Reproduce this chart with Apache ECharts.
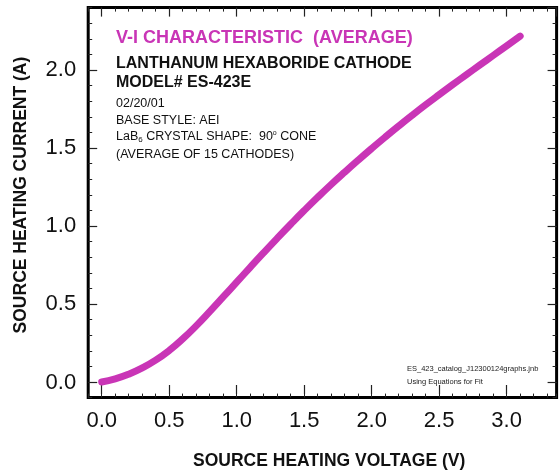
<!DOCTYPE html>
<html>
<head>
<meta charset="utf-8">
<script src="https://cdn.jsdelivr.net/npm/echarts@6/dist/echarts.min.js"></script>
<style>html,body{margin:0;padding:0;background:#fff}#c{width:560px;height:475px}</style>
</head>
<body>
<div id="c"></div>
<script>
const voltage = [0.0,0.1,0.2,0.3,0.4,0.5,0.6,0.7,0.8,0.9,1.0,1.1,1.2,1.3,1.4,1.5,1.6,1.7,1.8,1.9,2.0,2.1,2.2,2.3,2.4,2.5,2.6,2.7,2.8,2.9,3.0,3.1];
const current = [0.000,0.02,0.05,0.09,0.14,0.202,0.276,0.36,0.451,0.545,0.64,0.735,0.829,0.921,1.011,1.099,1.184,1.266,1.345,1.422,1.497,1.57,1.641,1.71,1.777,1.842,1.906,1.969,2.031,2.093,2.155,2.217];
const xTickLabels = ['0.0','0.5','1.0','1.5','2.0','2.5','3.0'];
const yTickLabels = ['0.0','0.5','1.0','1.5','2.0'];
const xTitle = 'SOURCE HEATING VOLTAGE (V)';
const yTitle = 'SOURCE HEATING CURRENT (A)';

const FONT = '"Liberation Sans", Arial, Helvetica, sans-serif';
const MAG = '#c935b6';
const chart = echarts.init(document.getElementById('c'));

function lab(list){
  return function(v){
    const s = (Math.round(v*10)/10).toFixed(1);
    return list.indexOf(s) >= 0 && Math.abs(v*2 - Math.round(v*2)) < 1e-6 ? s : '';
  };
}
const minorTick = {show:true, inside:true, length:4, lineStyle:{color:'#222', width:1}};
const majorTick = {show:true, inside:true, length:9, lineStyle:{color:'#222', width:1.2}};
const noLine = {show:false, onZero:false};

const option = {
  animation:false,
  backgroundColor:'#fff',
  grid:[
    {left:88.2, right:3.4, top:7.6, bottom:77.4, show:true, borderColor:'#000', borderWidth:3, backgroundColor:'transparent'},
    {left:101.7, right:3.4, top:7.6, bottom:77.4},
    {left:88.2, right:3.4, top:7.6, bottom:92.5}
  ],
  xAxis:[
    {gridIndex:0, type:'value', position:'bottom', min:-0.1, max:3.37, interval:0.1, axisLine:noLine, axisTick:minorTick, axisLabel:{show:false}, splitLine:{show:false}},
    {gridIndex:0, type:'value', position:'top', min:-0.1, max:3.37, interval:0.1, axisLine:noLine, axisTick:minorTick, axisLabel:{show:false}, splitLine:{show:false}},
    {gridIndex:1, type:'value', position:'bottom', min:0, max:3.37, interval:0.5, axisLine:noLine, axisTick:majorTick,
      axisLabel:{show:true, margin:16, fontSize:22, color:'#111', fontFamily:FONT, formatter:lab(xTickLabels), showMaxLabel:false}, splitLine:{show:false},
      name:xTitle, nameLocation:'middle', nameGap:58, nameTextStyle:{fontSize:17.5, fontWeight:'bold', color:'#111', fontFamily:FONT}},
    {gridIndex:1, type:'value', position:'top', min:0, max:3.37, interval:0.5, axisLine:noLine, axisTick:majorTick, axisLabel:{show:false}, splitLine:{show:false}},
    {gridIndex:2, type:'value', min:0, max:1, show:false, axisLine:noLine}
  ],
  yAxis:[
    {gridIndex:0, type:'value', position:'left', min:-0.1, max:2.4, interval:0.1, axisLine:noLine, axisTick:minorTick, axisLabel:{show:false}, splitLine:{show:false}},
    {gridIndex:0, type:'value', position:'right', min:-0.1, max:2.4, interval:0.1, axisLine:noLine, axisTick:minorTick, axisLabel:{show:false}, splitLine:{show:false}},
    {gridIndex:1, type:'value', min:0, max:1, show:false, axisLine:noLine},
    {gridIndex:2, type:'value', position:'left', min:0, max:2.4, interval:0.5, axisLine:noLine, axisTick:majorTick,
      axisLabel:{show:true, margin:12, fontSize:22, color:'#111', fontFamily:FONT, formatter:lab(yTickLabels), showMaxLabel:false}, splitLine:{show:false},
      name:yTitle, nameLocation:'middle', nameGap:58, nameTextStyle:{fontSize:17.5, fontWeight:'bold', color:'#111', fontFamily:FONT}},
    {gridIndex:2, type:'value', position:'right', min:0, max:2.4, interval:0.5, axisLine:noLine, axisTick:majorTick, axisLabel:{show:false}, splitLine:{show:false}}
  ],
  series:[
    {type:'line', xAxisIndex:0, yAxisIndex:0, data:voltage.map((v,i)=>[v,current[i]]), smooth:0.5, showSymbol:false,
      lineStyle:{color:MAG, width:7, cap:'round', join:'round'}, z:5}
  ],
  graphic:[
    {type:'text', left:116, top:29, style:{text:'V-I CHARACTERISTIC  (AVERAGE)', font:'bold 18px '+FONT, fill:MAG}},
    {type:'text', left:116, top:56, style:{text:'LANTHANUM HEXABORIDE CATHODE', font:'bold 16px '+FONT, fill:'#111'}},
    {type:'text', left:116, top:75, style:{text:'MODEL# ES-423E', font:'bold 16px '+FONT, fill:'#111'}},
    {type:'text', left:116, top:97, style:{text:'02/20/01', font:'12.5px '+FONT, fill:'#111'}},
    {type:'text', left:116, top:114, style:{text:'BASE STYLE: AEI', font:'12.5px '+FONT, fill:'#111'}},
    {type:'text', left:116, top:130, style:{text:'{a|LaB}{s|6}{a| CRYSTAL SHAPE:  90}{o|o}{a| CONE}', rich:{
      a:{font:'12.5px '+FONT, fill:'#111'}, s:{font:'8px '+FONT, fill:'#111', padding:[7,0,0,0]}, o:{font:'7px '+FONT, fill:'#111', padding:[0,0,6,0]}}}},
    {type:'text', left:116, top:148, style:{text:'(AVERAGE OF 15 CATHODES)', font:'12.5px '+FONT, fill:'#111'}},
    {type:'text', left:407, top:365, style:{text:'ES_423_catalog_J12300124graphs.jnb', font:'7.5px '+FONT, fill:'#222'}},
    {type:'text', left:407, top:378, style:{text:'Using Equations for Fit', font:'7.5px '+FONT, fill:'#222'}}
  ]
};
chart.setOption(option);
</script>
</body>
</html>
